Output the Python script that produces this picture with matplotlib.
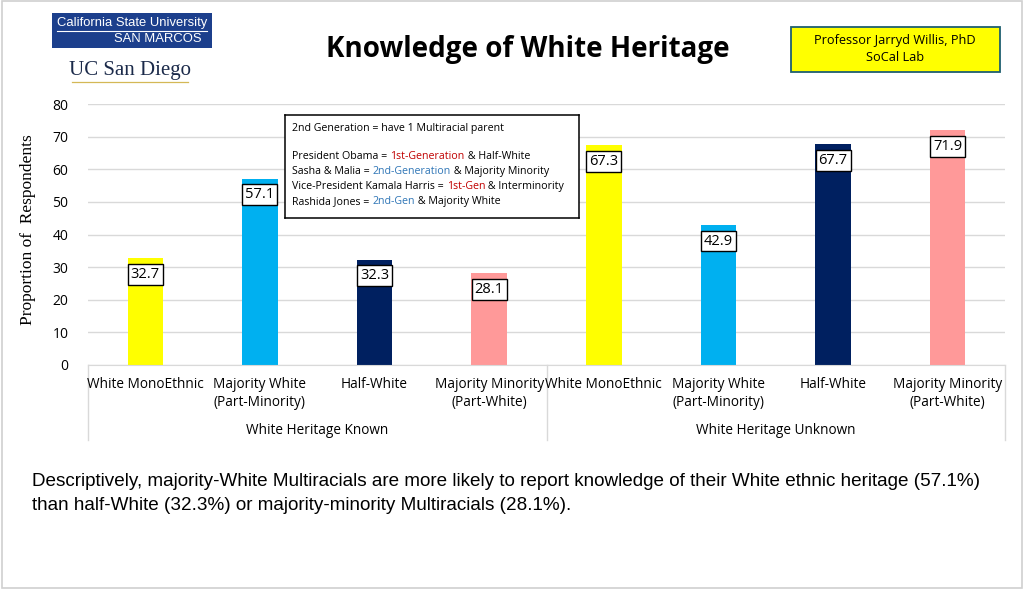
import numpy as np
import matplotlib.pyplot as plt
from matplotlib.patches import Rectangle
from matplotlib.transforms import blended_transform_factory

# data
categories = ['White MonoEthnic', 'Majority White\n(Part-Minority)', 'Half-White',
              'Majority Minority\n(Part-White)']
groups = ['White Heritage Known', 'White Heritage Unknown']
values = [32.7, 57.1, 32.3, 28.1, 67.3, 42.9, 67.7, 71.9]
colors = ['#FFFF00', '#00B0F0', '#002060', '#FF9999']

W, H = 1024, 589
fig = plt.figure(figsize=(W / 100, H / 100), dpi=100)
fig.patch.set_facecolor('white')

# slide border
fig.add_artist(Rectangle((0.002, 0.002), 0.996, 0.996, transform=fig.transFigure,
                         fill=False, edgecolor='#d0d0d0', lw=1.2))

def fx(px):
    return px / W

def fy(py):
    return 1 - py / H

ax = fig.add_axes([fx(88), fy(365), fx(1005) - fx(88), fy(104) - fy(365)])
n = len(values)
x = np.arange(n)
bar_colors = colors * len(groups)
ax.bar(x, values, width=0.31, color=bar_colors, zorder=2)
ax.set_xlim(-0.5, n - 0.5)
ax.set_ylim(0, 80)
ax.set_yticks(range(0, 81, 10))
ax.tick_params(axis='y', length=0, labelsize=10, pad=14)
ax.tick_params(axis='x', length=0)
ax.set_xticks([])
for lab in ax.get_yticklabels():
    lab.set_family('Open Sans')
ax.grid(axis='y', color='#d9d9d9', lw=1, zorder=0)
for s in ['top', 'right', 'left']:
    ax.spines[s].set_visible(False)
ax.spines['bottom'].set_color('#d9d9d9')
ax.set_ylabel('Proportion of  Respondents', family='Liberation Serif', fontsize=12.5, labelpad=14)
ax.yaxis.set_label_coords(-0.057, 0.52)

# value labels in white boxes just inside the bar tops
for xi, v in zip(x, values):
    ax.annotate(f'{v:.1f}', (xi, v), xytext=(0, -11.5), textcoords='offset points',
                ha='center', va='center', fontsize=10.5, family='Open Sans', zorder=4,
                bbox=dict(boxstyle='square,pad=0.2', fc='white', ec='black', lw=1))

# category and group labels
tr = blended_transform_factory(ax.transData, ax.transAxes)
per_ax = 1 / 261
for xi in x:
    ax.text(xi, -12 * per_ax, categories[xi % 4], transform=tr, ha='center', va='top',
            fontsize=9.8, family='Open Sans', linespacing=1.25)
for gi, g in enumerate(groups):
    ax.text(gi * 4 + 1.5, -65 * per_ax, g, transform=tr, ha='center', va='center',
            fontsize=9.8, family='Open Sans')
for xb in [-0.5, 3.5, 7.5]:
    ax.plot([xb, xb], [0, -75 * per_ax], transform=tr, color='#d9d9d9', lw=1, clip_on=False)

# annotation box
note = fig.add_axes([fx(285), fy(218), fx(579) - fx(285), fy(115) - fy(218)])
note.set_xticks([])
note.set_yticks([])
note.set_xlim(0, 1)
note.set_ylim(0, 1)
for s in note.spines.values():
    s.set_linewidth(1.1)
note.set_zorder(5)
red = '#C00000'
blue = '#2E75B6'
lines = [
    [('2nd Generation = have 1 Multiracial parent', 'black')],
    [],
    [('President Obama = ', 'black'), ('1st-Generation', red), (' & Half-White', 'black')],
    [('Sasha & Malia = ', 'black'), ('2nd-Generation', blue), (' & Majority Minority', 'black')],
    [('Vice-President Kamala Harris = ', 'black'), ('1st-Gen', red), (' & Interminority', 'black')],
    [('Rashida Jones = ', 'black'), ('2nd-Gen', blue), (' & Majority White', 'black')],
]
ys = [0.87, 0.0, 0.60, 0.45, 0.305, 0.16]
fig.canvas.draw()
r = fig.canvas.get_renderer()
for segs, yy in zip(lines, ys):
    xx = 0.025
    for txt, col in segs:
        t = note.text(xx, yy, txt, color=col, fontsize=7.7, family='Open Sans', va='center')
        bb = t.get_window_extent(renderer=r)
        xx += bb.width / note.get_window_extent(renderer=r).width

# title
fig.text(fx(528), fy(49), 'Knowledge of White Heritage', ha='center', va='center',
         fontsize=20, fontweight='bold', family='Open Sans')

# professor box
fig.text(fx(895), fy(49), 'Professor Jarryd Willis, PhD\nSoCal Lab', ha='center', va='center',
         fontsize=9.2, family='Open Sans', linespacing=1.35)
fig.add_artist(Rectangle((fx(791), fy(72)), fx(1000) - fx(791), fy(27) - fy(72),
                         transform=fig.transFigure, fc='#FFFF00', ec='#1F5F6F', lw=1.3, zorder=-1))

# logos
fig.add_artist(Rectangle((fx(52), fy(48)), fx(212) - fx(52), fy(13) - fy(48),
                         transform=fig.transFigure, fc='#1C3F8C', ec='none'))
fig.text(fx(132), fy(23), 'California State University', color='white', ha='center',
         va='center', fontsize=9.4, family='Liberation Sans')
fig.add_artist(plt.Line2D([fx(57), fx(207)], [fy(31), fy(31)], transform=fig.transFigure,
                          color='white', lw=0.8))
fig.text(fx(202), fy(39.5), 'SAN MARCOS', color='white', ha='right', va='center',
         fontsize=9.4, family='Liberation Sans')
fig.text(fx(130), fy(70), 'UC San Diego', color='#1B2A4A', ha='center', va='center',
         fontsize=15, family='Liberation Serif')
fig.add_artist(plt.Line2D([fx(72), fx(188)], [fy(82), fy(82)], transform=fig.transFigure,
                          color='#D4B856', lw=0.9))

# caption
fig.text(fx(32), fy(482), 'Descriptively, majority-White Multiracials are more likely to report knowledge '
         'of their White ethnic heritage (57.1%)', fontsize=13.6, family='Liberation Sans', va='center')
fig.text(fx(32), fy(505), 'than half-White (32.3%) or majority-minority Multiracials (28.1%).',
         fontsize=13.6, family='Liberation Sans', va='center')

fig.savefig('out.png', dpi=100)
